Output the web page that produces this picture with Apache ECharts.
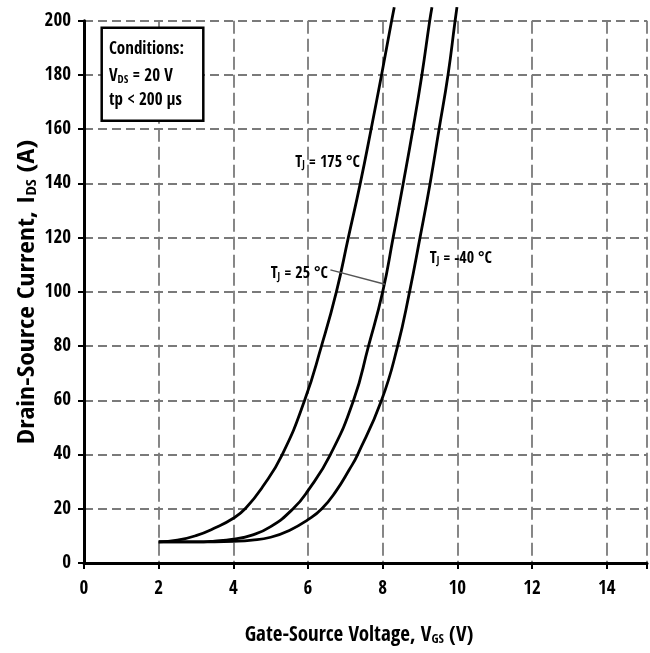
<!DOCTYPE html>
<html>
<head>
<meta charset="utf-8">
<script src="https://cdn.jsdelivr.net/npm/echarts@6/dist/echarts.min.js"></script>
<style>
  html, body { margin: 0; padding: 0; background: #fff; }
  #chart { width: 650px; height: 653px; }
</style>
</head>
<body>
<div id="chart"></div>
<script>
// Transfer characteristics: drain-source current vs gate-source voltage
const FONT = '"Open Sans Condensed", "Carlito", "Open Sans", sans-serif';

const xRange = [0, 15.08];
const yRange = [0, 200];

// [V_GS (V), I_DS (A)] per junction temperature
const curveTj175 = [
  [2, 7.8], [2.5, 8.4], [3, 10.1], [3.5, 12.9], [4, 16.5], [4.33, 20.2], [4.78, 28],
  [5.31, 40], [5.91, 60], [6.36, 80], [6.76, 100], [7.08, 120], [7.4, 140],
  [7.69, 160], [7.97, 180], [8.24, 200], [8.31, 205]
];
const curveTj25 = [
  [2, 7.8], [3, 7.8], [3.5, 8.1], [4, 8.8], [4.5, 10.3], [5, 13.4], [5.6, 20],
  [6, 26.7], [6.6, 40], [7.22, 60], [7.62, 80], [8.0, 100], [8.28, 120],
  [8.55, 140], [8.81, 160], [9.05, 180], [9.26, 200], [9.32, 205]
];
const curveTjM40 = [
  [2, 7.8], [3, 7.8], [4, 8.0], [4.5, 8.4], [5, 9.5], [5.5, 12], [6, 16],
  [6.37, 20], [6.75, 26.5], [7.1, 34.3], [7.33, 40], [7.97, 60], [8.4, 80],
  [8.72, 100], [9.0, 120], [9.27, 140], [9.51, 160], [9.75, 180], [9.94, 200],
  [9.99, 205]
];

// Curve labels anchored in data space (left edge, vertical centre)
const labelTj175 = [5.66, 148.7];
const labelTj25 = [5.0, 107.7];
const labelTjM40 = [9.26, 113.3];
const leaderTj25 = [[6.6, 108.1], [8.06, 102.8]];

const chart = echarts.init(document.getElementById('chart'), null, { renderer: 'canvas' });

const gridLine = (dash) => ({
  show: true,
  lineStyle: { color: '#7a7a7a', width: 1.8, type: dash }
});

const lineSeries = (data) => ({
  type: 'line',
  data: data,
  smooth: 0.5,
  showSymbol: false,
  clip: false,
  lineStyle: { color: '#000', width: 2.8 },
  z: 5
});

chart.setOption({
  animation: false,
  backgroundColor: '#fff',
  grid: { left: 84, right: 0, top: 20.7, bottom: 90, containLabel: false },
  xAxis: {
    type: 'value',
    min: xRange[0], max: xRange[1], interval: 2,
    axisLine: { show: true, onZero: false, lineStyle: { color: '#000', width: 3 } },
    axisTick: { show: true, length: 6, lineStyle: { color: '#000', width: 2 } },
    axisLabel: {
      margin: 17,
      fontFamily: FONT, fontWeight: 'bold', fontSize: 19, color: '#000',
      formatter: (v) => (v % 2 === 0 ? String(v) : '')
    },
    splitLine: gridLine([13, 5])
  },
  yAxis: {
    type: 'value',
    min: yRange[0], max: yRange[1], interval: 20,
    axisLine: { show: true, lineStyle: { color: '#000', width: 3 } },
    axisTick: { show: true, length: 6, lineStyle: { color: '#000', width: 2 } },
    axisLabel: {
      margin: 13,
      fontFamily: FONT, fontWeight: 'bold', fontSize: 19, color: '#000'
    },
    splitLine: gridLine([9, 5])
  },
  series: [lineSeries(curveTj175), lineSeries(curveTj25), lineSeries(curveTjM40)]
});

const richBase = (size) => ({
  a: { fontFamily: FONT, fontWeight: 'bold', fontSize: size, fill: '#000', lineHeight: size + 6, verticalAlign: 'bottom' },
  s: { fontFamily: FONT, fontWeight: 'bold', fontSize: Math.round(size * 0.62), fill: '#000', lineHeight: size + 6, verticalAlign: 'bottom' }
});

const textAt = (pt, str, size) => {
  const p = chart.convertToPixel({ gridIndex: 0 }, pt);
  return {
    type: 'text', x: p[0], y: p[1], z: 20,
    style: { text: str, rich: richBase(size), verticalAlign: 'middle', align: 'left' }
  };
};

const l0 = chart.convertToPixel({ gridIndex: 0 }, leaderTj25[0]);
const l1 = chart.convertToPixel({ gridIndex: 0 }, leaderTj25[1]);

chart.setOption({
  graphic: [
    // Test conditions box
    {
      type: 'rect', z: 15,
      shape: { x: 101.7, y: 27.7, width: 101.6, height: 93 },
      style: { fill: '#fff', stroke: '#000', lineWidth: 2.5 }
    },
    {
      type: 'text', x: 109, y: 46.5, z: 20,
      style: { text: '{a|Conditions:}', rich: richBase(17), verticalAlign: 'middle' }
    },
    {
      type: 'text', x: 109, y: 74, z: 20,
      style: { text: '{a|V}{s|DS}{a| = 20 V}', rich: richBase(17), verticalAlign: 'middle' }
    },
    {
      type: 'text', x: 109, y: 98, z: 20,
      style: { text: '{a|tp < 200 µs}', rich: richBase(17), verticalAlign: 'middle' }
    },
    // Curve labels
    textAt(labelTj175, '{a|T}{s|J}{a| = 175 °C}', 16),
    textAt(labelTj25, '{a|T}{s|J}{a| = 25 °C}', 16),
    textAt(labelTjM40, '{a|T}{s|J}{a| = -40 °C}', 16),
    {
      type: 'line', z: 10,
      shape: { x1: l0[0], y1: l0[1], x2: l1[0], y2: l1[1] },
      style: { stroke: '#555', lineWidth: 1.5 }
    },
    // Axis titles
    {
      type: 'text', x: 359, y: 633, z: 20,
      style: { text: '{a|Gate-Source Voltage, V}{s|GS}{a| (V)}', rich: richBase(21), align: 'center', verticalAlign: 'middle' }
    },
    {
      type: 'text', x: 25, y: 292, rotation: Math.PI / 2, scaleX: 1.2, z: 20,
      style: { text: '{a|Drain-Source Current, I}{s|DS}{a| (A)}', rich: richBase(23), align: 'center', verticalAlign: 'middle' }
    }
  ]
});
</script>
</body>
</html>
